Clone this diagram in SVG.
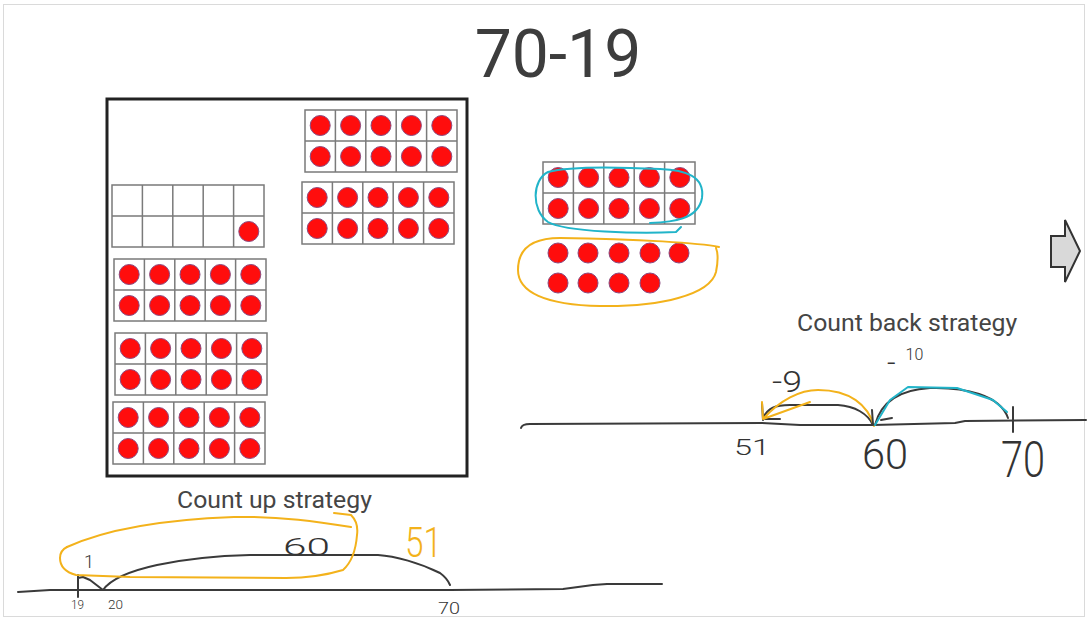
<svg xmlns="http://www.w3.org/2000/svg" xmlns:xlink="http://www.w3.org/1999/xlink" width="1092" height="622" viewBox="0 0 1092 622">
<style>
.title{font-family:Roboto,"Liberation Sans",sans-serif;fill:#3d3d3d}
.cap{font-family:Roboto,"Liberation Sans",sans-serif;fill:#454545;font-size:24.8px}
.hand{font-family:Roboto,"Liberation Sans",sans-serif;font-weight:300;fill:#333}
.handO{font-family:Roboto,"Liberation Sans",sans-serif;font-weight:300;fill:#f3b21b}
.ink{fill:none;stroke:#3a3a3a;stroke-width:2;stroke-linecap:round;stroke-linejoin:round}
.orange{fill:none;stroke:#f3b21b;stroke-width:2;stroke-linecap:round;stroke-linejoin:round}
.cyan{fill:none;stroke:#21b4c9;stroke-width:2;stroke-linecap:round;stroke-linejoin:round}
.cell{fill:#fff;stroke:#7a7a7a;stroke-width:1.5}
.gl{stroke:#7a7a7a;stroke-width:1.5}
.dot{fill:#ff0d0d;stroke:#8a4a80;stroke-width:1}
</style>
<defs>
<g id="grid">
<rect class="cell" x="0" y="0" width="152" height="62"/>
<path class="gl" d="M30.4 0V62M60.8 0V62M91.2 0V62M121.6 0V62M0 31H152"/>
</g>
<g id="row5">
<circle class="dot" cx="15.2" cy="0" r="10"/>
<circle class="dot" cx="45.6" cy="0" r="10"/>
<circle class="dot" cx="76" cy="0" r="10"/>
<circle class="dot" cx="106.4" cy="0" r="10"/>
<circle class="dot" cx="136.8" cy="0" r="10"/>
</g>
<g id="full">
<use xlink:href="#grid"/>
<use xlink:href="#row5" y="15.5"/>
<use xlink:href="#row5" y="46.5"/>
</g>
</defs>
<rect x="0" y="0" width="1092" height="622" fill="#fff"/>
<rect x="3.5" y="4.5" width="1081" height="612" fill="none" stroke="#dadada" stroke-width="1"/>

<g id="title"><text class="title" x="558" y="77" font-size="66" text-anchor="middle">70-19</text></g>

<g id="container"><rect x="107" y="99" width="360" height="377" fill="none" stroke="#222" stroke-width="3"/></g>
<g id="frameA"><use xlink:href="#full" x="305" y="110"/></g>
<g id="frameB"><use xlink:href="#full" x="302" y="182"/></g>
<g id="frameC"><use xlink:href="#grid" x="112" y="185"/><circle class="dot" cx="248.8" cy="231.5" r="10"/></g>
<g id="frameD"><use xlink:href="#full" x="114" y="259"/></g>
<g id="frameE"><use xlink:href="#full" x="115" y="333"/></g>
<g id="frameF"><use xlink:href="#full" x="113" y="402"/></g>

<g id="frameM"><use xlink:href="#full" x="543" y="162"/></g>
<g id="looseDots">
<circle class="dot" cx="558" cy="253" r="10"/><circle class="dot" cx="588" cy="253" r="10"/><circle class="dot" cx="619" cy="253" r="10"/><circle class="dot" cx="650" cy="253" r="10"/><circle class="dot" cx="679" cy="253" r="10"/>
<circle class="dot" cx="558" cy="283" r="10"/><circle class="dot" cx="588" cy="283" r="10"/><circle class="dot" cx="619" cy="283" r="10"/><circle class="dot" cx="650" cy="283" r="10"/>
</g>
<g id="loops">
<path class="cyan" d="M650 223C672 222 698 220 702 198C705 176 685 170 660 169C620 167 570 166 548 172C532 180 531 210 548 222C565 232 640 234 676 232L681 227"/>
<path class="orange" d="M719 247C700 243 640 239 560 238C530 238 518 250 518 270C518 292 545 305 600 306C660 307 710 295 716 272C718 262 718 253 716 248"/>
</g>

<g id="nextArrow"><polygon points="1051,236 1065,236 1065,220 1080,251 1065,282 1065,267 1051,267" fill="#d9d9d9" stroke="#333" stroke-width="2" stroke-linejoin="miter"/></g>

<g id="countBack">
<text class="cap" x="797" y="331">Count back strategy</text>
<path class="ink" d="M521 428Q522 424 530 424L762 423L800 425L873 425L955 423L965 421L1086 420"/>
<path class="ink" d="M762 403L763 420M765 419L780 419"/>
<path class="ink" d="M763 418C768 408 775 405 790 405L838 405C855 406 868 414 873 425"/>
<path class="orange" d="M874 426C868 405 850 390 818 390C800 390 780 400 763 419M762 402L763 419L810 402"/>
<path class="ink" d="M872 410L873 425M881 420L892 418"/>
<path class="ink" d="M875 425C880 405 895 390 930 388C965 387 1000 395 1008 418"/>
<path class="cyan" d="M875 425L890 400L908 387L957 388L993 400L1007 412"/>
<path class="ink" d="M1013 407L1013 432"/>
<text class="hand" x="772" y="392" font-size="30" textLength="30" lengthAdjust="spacingAndGlyphs">-9</text>
<text class="hand" x="887" y="360" font-size="16"><tspan font-size="30" dy="13">-</tspan><tspan dx="10" dy="-13">10</tspan></text>
<text class="hand" x="734" y="455" font-size="22" textLength="36" lengthAdjust="spacingAndGlyphs">51</text>
<text class="hand" x="862" y="469" font-size="42" textLength="46" lengthAdjust="spacingAndGlyphs">60</text>
<text class="hand" x="1001" y="477" font-size="50" textLength="44" lengthAdjust="spacingAndGlyphs">70</text>
</g>

<g id="countUp">
<text class="cap" x="177" y="508">Count up strategy</text>
<path class="ink" d="M18 592L50 590L450 590L563 589L593 585L607 584L662 584"/>
<path class="ink" d="M78 575L78 597M78 578L83 577L90 580L103 590"/>
<path class="ink" d="M103 590C110 580 125 572 157 565C185 559 210 556 250 555L378 555C395 556 420 563 440 573Q447 578 450 585"/>
<path class="orange" d="M67 547C100 532 150 520 234 517C280 516 320 522 351 527"/>
<path class="orange" d="M334 513L351 515C356 520 358 528 357 535C356 548 352 562 343 570C320 577 300 578 286 578L130 577L76 575C65 572 60 566 60 558C60 552 63 549 67 547"/>
<text class="hand" x="84" y="568" font-size="18">1</text>
<text class="hand" x="283" y="555" font-size="24" textLength="47" lengthAdjust="spacingAndGlyphs">60</text>
<text class="handO" x="405" y="557" font-size="42" textLength="37" lengthAdjust="spacingAndGlyphs">51</text>
<text class="hand" x="71" y="609" font-size="12" textLength="13" lengthAdjust="spacingAndGlyphs">19</text>
<text class="hand" x="108" y="609" font-size="12" textLength="15" lengthAdjust="spacingAndGlyphs">20</text>
<text class="hand" x="438" y="614" font-size="16" textLength="22" lengthAdjust="spacingAndGlyphs">70</text>
</g>
</svg>
